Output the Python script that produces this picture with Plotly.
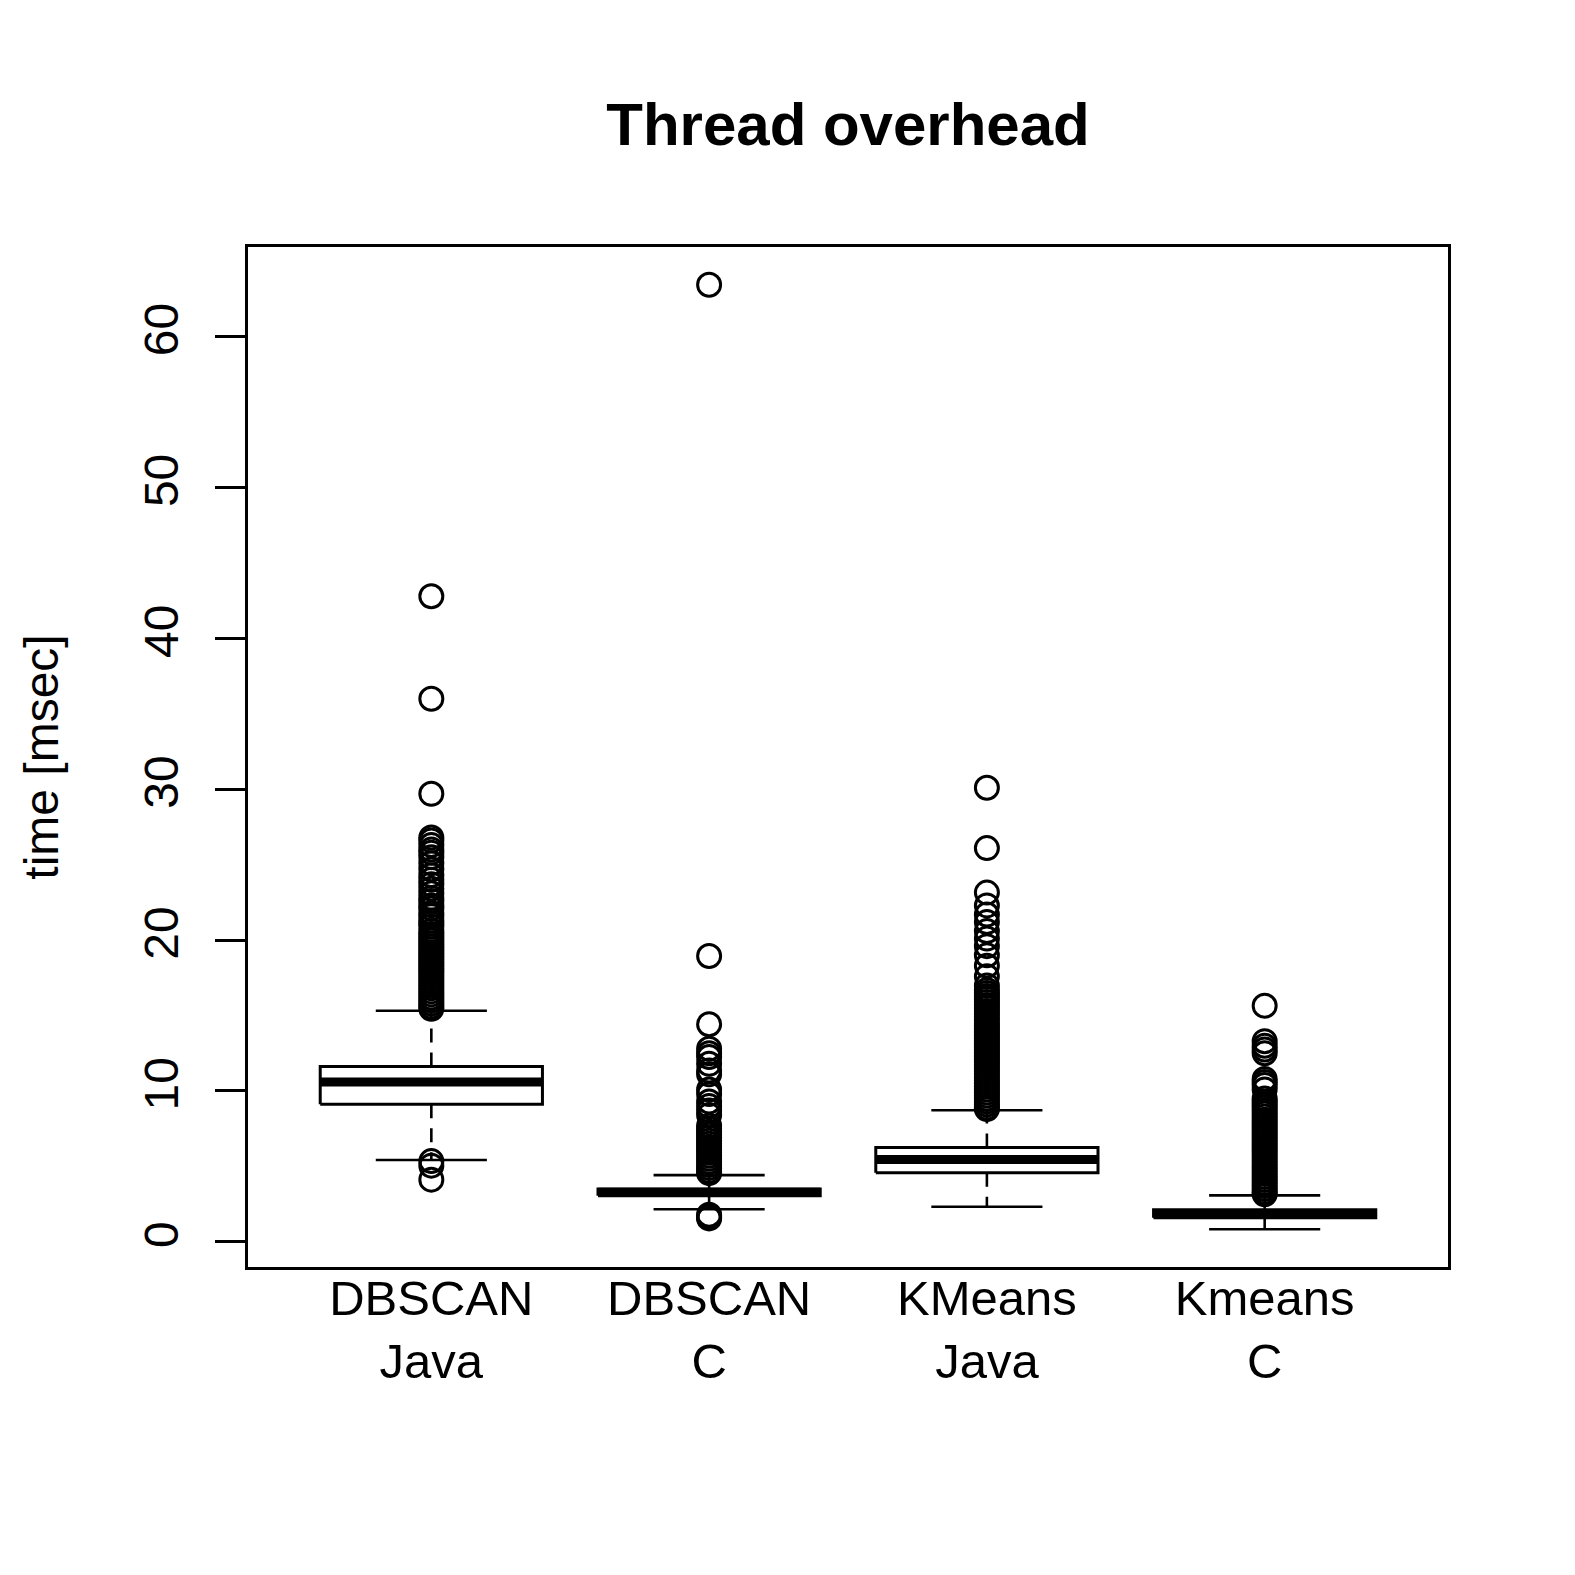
import plotly.graph_objects as go

# ---- data ----
categories = ["DBSCAN<br>Java", "DBSCAN<br>C", "KMeans<br>Java", "Kmeans<br>C"]
positions = [1, 2, 3, 4]

q1 = [9.12, 3.05, 4.58, 1.60]
median = [10.60, 3.28, 5.45, 1.85]
q3 = [11.62, 3.50, 6.25, 2.12]
whisker_low = [5.42, 2.16, 2.32, 0.83]
whisker_high = [15.32, 4.42, 8.72, 3.08]

outliers_dbscan_java = [
    42.8, 36.0, 29.7, 26.8, 26.6, 26.3, 26.0, 25.8, 25.5, 25.1, 24.7, 24.3,
    24.0, 23.7, 23.4, 23.1, 22.8, 22.6, 22.3, 22.1, 21.8, 21.6, 21.3, 21.1,
    20.9, 20.6, 20.4, 20.2, 20.0, 19.8, 19.6, 19.4, 19.2, 19.0, 18.8, 18.6,
    18.4, 18.2, 18.0, 17.8, 17.6, 17.4, 17.2, 17.0, 16.8, 16.6, 16.4, 16.2,
    16.0, 15.8, 15.6, 15.45, 5.35, 5.05, 4.12,
]
outliers_dbscan_c = [
    63.45, 18.95, 14.42, 12.8, 12.5, 12.25, 11.8, 11.35, 11.1, 10.1, 9.8,
    9.3, 9.0, 8.7, 8.4, 7.7, 7.5, 7.3, 7.1, 6.9, 6.7, 6.5, 6.3, 6.1, 5.9,
    5.7, 5.5, 5.3, 5.1, 4.9, 4.7, 4.55, 1.80, 1.70, 1.62, 1.55,
]
outliers_kmeans_java = [
    30.1, 26.1, 23.15, 22.3, 21.7, 21.2, 20.6, 20.1, 19.6, 19.0, 18.3, 17.6,
    17.0, 16.7, 16.5, 16.3, 16.1, 15.9, 15.7, 15.5, 15.3, 15.1, 14.9, 14.7,
    14.5, 14.3, 14.1, 13.9, 13.7, 13.5, 13.3, 13.1, 12.9, 12.7, 12.5, 12.3,
    12.1, 11.9, 11.7, 11.5, 11.3, 11.1, 10.9, 10.7, 10.5, 10.3, 10.1, 9.9,
    9.7, 9.5, 9.3, 9.1, 8.9, 8.8,
]
outliers_kmeans_c = [
    15.65, 13.3, 13.0, 12.75, 12.5, 10.8, 10.6, 10.4, 10.1, 9.5, 9.3, 9.1,
    8.9, 8.7, 8.5, 8.3, 8.1, 7.9, 7.7, 7.5, 7.3, 7.1, 6.9, 6.7, 6.5, 6.3,
    6.1, 5.9, 5.7, 5.5, 5.3, 5.1, 4.9, 4.7, 4.5, 4.3, 4.1, 3.9, 3.7, 3.5,
    3.3, 3.15,
]
outliers = [outliers_dbscan_java, outliers_dbscan_c, outliers_kmeans_java, outliers_kmeans_c]

y_ticks = [0, 10, 20, 30, 40, 50, 60]

# ---- styling ----
BOX_HALF = 0.4
STAPLE_HALF = 0.2
FONT = "Liberation Sans, Arial, sans-serif"

fig = go.Figure()

for i, p in enumerate(positions):
    # dashed whiskers
    fig.add_trace(go.Scatter(
        x=[p, p, None, p, p],
        y=[q3[i], whisker_high[i], None, q1[i], whisker_low[i]],
        mode="lines", line=dict(color="black", width=2.6, dash="14px,10px"),
        hoverinfo="skip", showlegend=False))
    # staples
    fig.add_trace(go.Scatter(
        x=[p - STAPLE_HALF, p + STAPLE_HALF, None, p - STAPLE_HALF, p + STAPLE_HALF],
        y=[whisker_high[i], whisker_high[i], None, whisker_low[i], whisker_low[i]],
        mode="lines", line=dict(color="black", width=2.6),
        hoverinfo="skip", showlegend=False))
    # box
    fig.add_trace(go.Scatter(
        x=[p - BOX_HALF, p + BOX_HALF, p + BOX_HALF, p - BOX_HALF, p - BOX_HALF],
        y=[q1[i], q1[i], q3[i], q3[i], q1[i]],
        mode="lines", line=dict(color="black", width=3),
        fill="toself", fillcolor="white",
        hoverinfo="skip", showlegend=False))
    # median
    fig.add_trace(go.Scatter(
        x=[p - BOX_HALF, p + BOX_HALF],
        y=[median[i], median[i]],
        mode="lines", line=dict(color="black", width=9),
        hoverinfo="skip", showlegend=False))
    # outliers
    fig.add_trace(go.Scatter(
        x=[p] * len(outliers[i]), y=outliers[i],
        mode="markers",
        marker=dict(symbol="circle-open", size=23, color="black",
                    line=dict(width=3, color="black")),
        hoverinfo="skip", showlegend=False))

fig.update_layout(
    width=1575, height=1575,
    paper_bgcolor="white", plot_bgcolor="white",
    margin=dict(l=240, r=135, t=239, b=316),
    font=dict(family=FONT, size=48, color="black"),
    title=dict(text="<b>Thread overhead</b>", x=0.5, xref="paper",
               y=1 - 116 / 1575, yref="container", yanchor="middle",
               xanchor="center", font=dict(size=60, family=FONT, color="black")),
    showlegend=False,
)
fig.update_xaxes(
    range=[0.34, 4.66], tickvals=positions, ticktext=categories,
    ticks="", showgrid=False, zeroline=False,
    showline=True, linecolor="black", linewidth=2.5, mirror=True,
    tickfont=dict(size=49, family=FONT, color="black"),
    ticklabelstandoff=-14,
)
fig.update_yaxes(
    range=[-1.67, 65.95], tickvals=y_ticks, ticktext=[str(v) for v in y_ticks],
    ticks="outside", ticklen=30, tickwidth=2.5, tickcolor="black",
    tickangle=-90, showgrid=False, zeroline=False,
    showline=True, linecolor="black", linewidth=2.5, mirror=True,
    tickfont=dict(size=48, family=FONT, color="black"),
    ticklabelstandoff=18,
    title=dict(text="time [msec]", font=dict(size=48, family=FONT, color="black"),
               standoff=62),
)

fig.write_html("out.html")
